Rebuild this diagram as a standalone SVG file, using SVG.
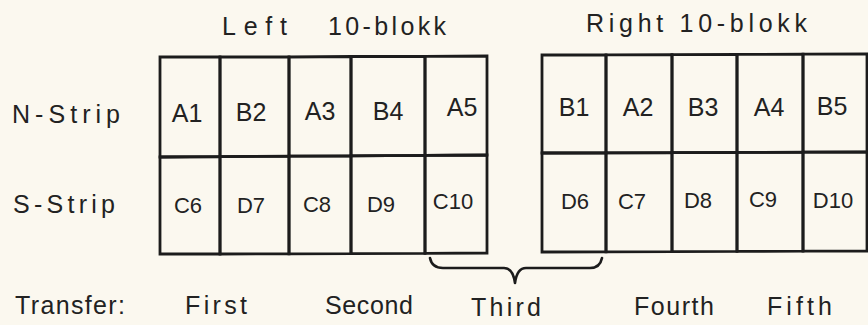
<svg xmlns="http://www.w3.org/2000/svg" width="868" height="325" viewBox="0 0 868 325">
<style>
.bg{fill:#fbf8ef}
.cell{fill:none;stroke:#1c1c1c;stroke-width:2.8;stroke-linejoin:miter}
.t{font-family:"Liberation Sans",Arial,sans-serif;fill:#222;}
.lbl{font-size:25px}
.c1{font-size:25px;text-anchor:middle}
.c2{font-size:22px;text-anchor:middle}
.brace{fill:none;stroke:#1c1c1c;stroke-width:2.6;stroke-linecap:round;stroke-linejoin:round}
</style>
<rect class="bg" x="0" y="0" width="868" height="325"/>
<g id="titles">
<text class="t lbl" x="222" y="35" textLength="65" lengthAdjust="spacing">Left</text>
<text class="t lbl" x="328" y="35" textLength="118" lengthAdjust="spacing">10-blokk</text>
<text class="t lbl" x="586" y="32" textLength="221" lengthAdjust="spacing">Right 10-blokk</text>
<text class="t lbl" x="12" y="123" textLength="108" lengthAdjust="spacing">N-Strip</text>
<text class="t lbl" x="13" y="213" textLength="102" lengthAdjust="spacing">S-Strip</text>
</g>
<g id="left-block">
<g id="A1"><polygon class="cell" points="160,57 220,57 220,156.6 160,157"/><text class="t c1" x="187" y="122">A1</text></g>
<g id="B2"><polygon class="cell" points="220,57 289,57 289,156.2 220,156.6"/><text class="t c1" x="251" y="121">B2</text></g>
<g id="A3"><polygon class="cell" points="289,57 351,56.5 351,155.8 289,156.2"/><text class="t c1" x="320" y="120">A3</text></g>
<g id="B4"><polygon class="cell" points="351,56.5 425,56.3 425,155.4 351,155.8"/><text class="t c1" x="388" y="120">B4</text></g>
<g id="A5"><polygon class="cell" points="425,56.3 487,56 487,155 425,155.4"/><text class="t c1" x="462" y="116">A5</text></g>
<g id="C6"><polygon class="cell" points="160,157 220,156.6 220,254 160,254"/><text class="t c2" x="188" y="213">C6</text></g>
<g id="D7"><polygon class="cell" points="220,156.6 289,156.2 289,253.8 220,254"/><text class="t c2" x="251" y="213">D7</text></g>
<g id="C8"><polygon class="cell" points="289,156.2 351,155.8 351,253.6 289,253.8"/><text class="t c2" x="317" y="212">C8</text></g>
<g id="D9"><polygon class="cell" points="351,155.8 425,155.4 425,253.3 351,253.6"/><text class="t c2" x="381" y="212">D9</text></g>
<g id="C10"><polygon class="cell" points="425,155.4 487,155 487,253 425,253.3"/><text class="t c2" x="453" y="209">C10</text></g>
</g>
<g id="right-block">
<g id="B1"><polygon class="cell" points="542,55 606,54.8 606,152.8 542,153"/><text class="t c1" x="574" y="116">B1</text></g>
<g id="A2"><polygon class="cell" points="606,54.8 672,54.6 672,152.6 606,152.8"/><text class="t c1" x="638" y="116">A2</text></g>
<g id="B3"><polygon class="cell" points="672,54.6 737,54.4 737,152.4 672,152.6"/><text class="t c1" x="703" y="116">B3</text></g>
<g id="A4"><polygon class="cell" points="737,54.4 803,54.2 803,152.2 737,152.4"/><text class="t c1" x="769" y="116">A4</text></g>
<g id="B5"><polygon class="cell" points="803,54.2 867,54 867,152 803,152.2"/><text class="t c1" x="832" y="115">B5</text></g>
<g id="D6"><polygon class="cell" points="542,153 606,152.8 606,251.8 542,252"/><text class="t c2" x="575" y="209">D6</text></g>
<g id="C7"><polygon class="cell" points="606,152.8 672,152.6 672,251.6 606,251.8"/><text class="t c2" x="632" y="209">C7</text></g>
<g id="D8"><polygon class="cell" points="672,152.6 737,152.4 737,251.4 672,251.6"/><text class="t c2" x="698" y="208">D8</text></g>
<g id="C9"><polygon class="cell" points="737,152.4 803,152.2 803,251.2 737,251.4"/><text class="t c2" x="763" y="207">C9</text></g>
<g id="D10"><polygon class="cell" points="803,152.2 867,152 867,251 803,251.2"/><text class="t c2" x="833" y="208">D10</text></g>
</g>
<g id="connectors">
<path class="brace" d="M430,258 Q432,268 443,268 L504,268 Q513,268 515,283 Q517,268 526,268 L590,268 Q600,268 602,258"/>
</g>
<g id="transfer">
<text class="t lbl" x="15" y="314" textLength="110" lengthAdjust="spacing">Transfer:</text>
<text class="t lbl" x="185" y="314" textLength="62" lengthAdjust="spacing">First</text>
<text class="t lbl" x="325" y="314" textLength="88" lengthAdjust="spacing">Second</text>
<text class="t lbl" x="471" y="316" textLength="70" lengthAdjust="spacing">Third</text>
<text class="t lbl" x="634" y="315" textLength="80" lengthAdjust="spacing">Fourth</text>
<text class="t lbl" x="767" y="315" textLength="65" lengthAdjust="spacing">Fifth</text>
</g>
</svg>
